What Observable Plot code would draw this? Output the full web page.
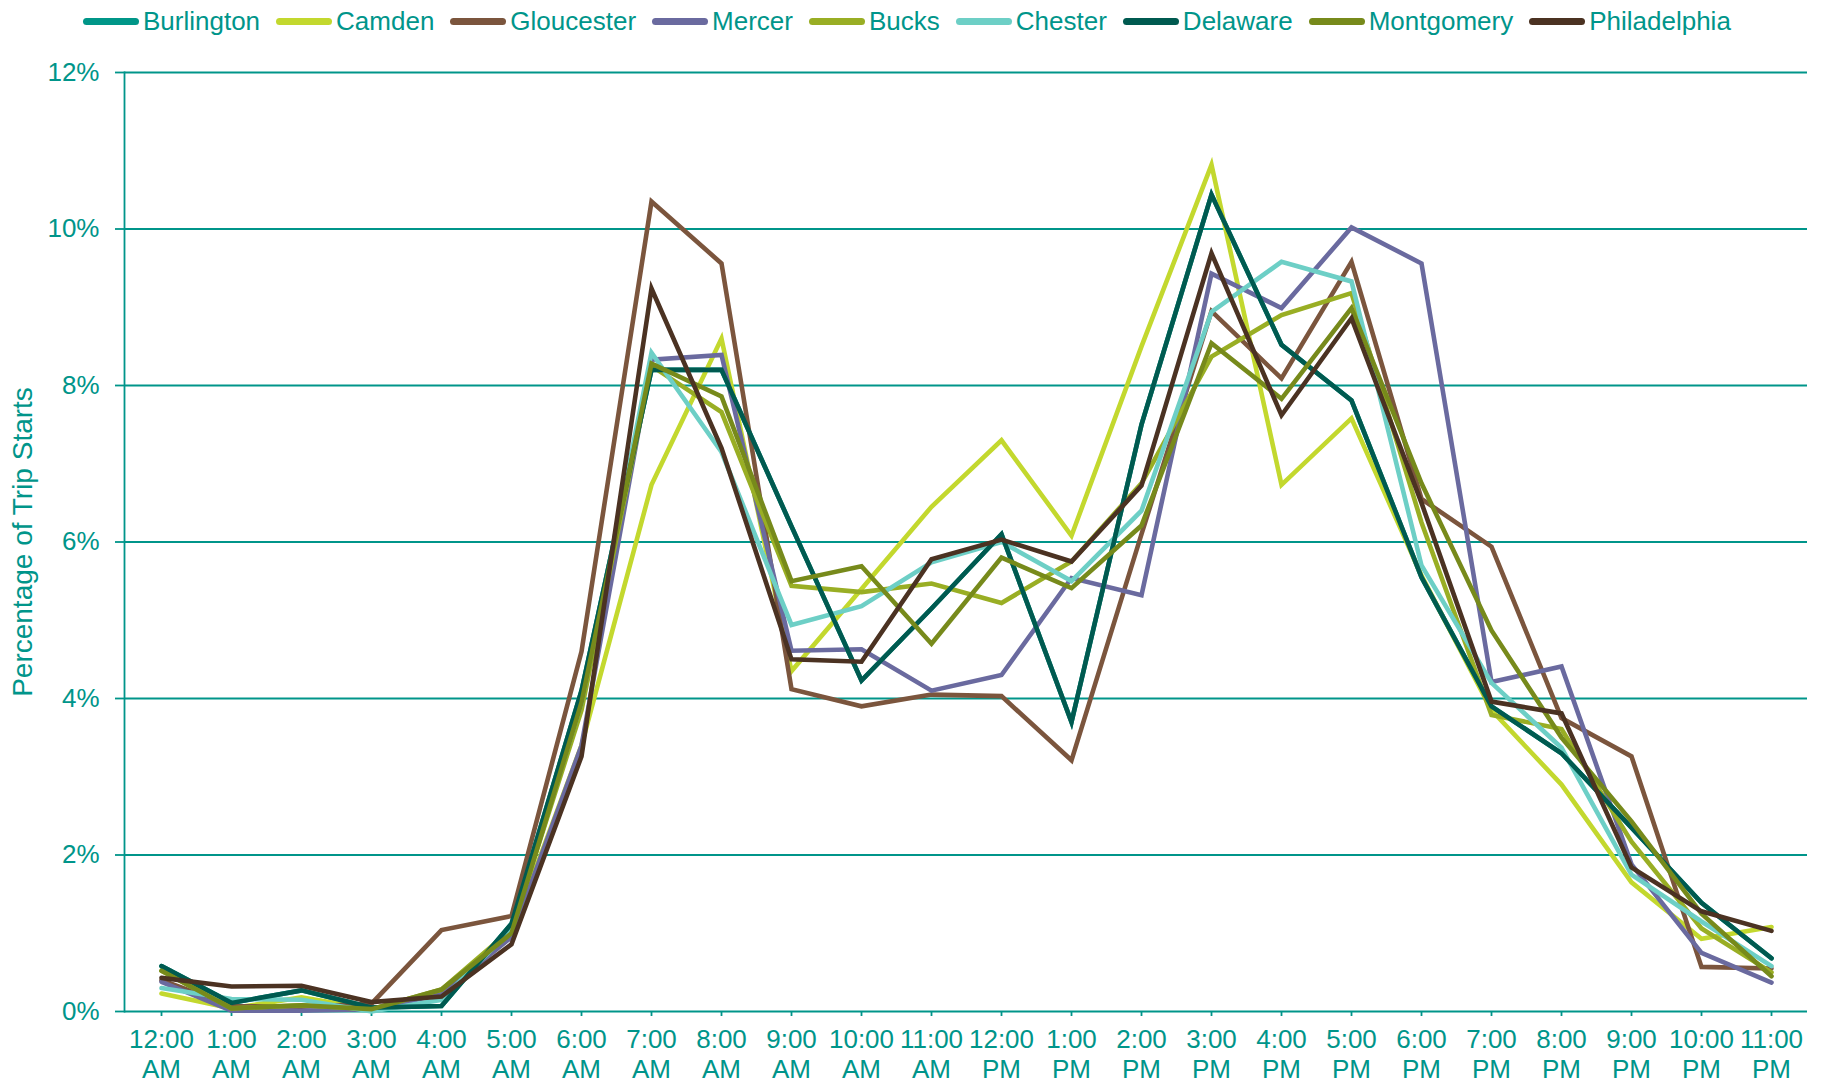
<!DOCTYPE html>
<html><head><meta charset="utf-8">
<script src="https://cdn.jsdelivr.net/npm/d3@7"></script>
<script src="https://cdn.jsdelivr.net/npm/@observablehq/plot@0.6"></script>
<style>
body{margin:0;background:#fff;font-family:"Liberation Sans",Arial,sans-serif;}
#legend{height:42px;display:flex;align-items:center;padding-left:83px;font-size:26px;color:#00958a;white-space:nowrap;}
.item{display:flex;align-items:center;margin-right:16px;}
.sw{width:56px;height:7px;border-radius:3.5px;margin-right:4px;}
</style></head><body>
<div id="legend"></div>
<div id="chart"></div>
<script>
const hours = ["12:00 AM","1:00 AM","2:00 AM","3:00 AM","4:00 AM","5:00 AM","6:00 AM","7:00 AM","8:00 AM","9:00 AM","10:00 AM","11:00 AM",
               "12:00 PM","1:00 PM","2:00 PM","3:00 PM","4:00 PM","5:00 PM","6:00 PM","7:00 PM","8:00 PM","9:00 PM","10:00 PM","11:00 PM"];
const yTicks = [0, 2, 4, 6, 8, 10, 12];
const seriesNames = ["Burlington","Camden","Gloucester","Mercer","Bucks","Chester","Delaware","Montgomery","Philadelphia"];
const seriesColors = ["#009688","#c3d82e","#7b553d","#6a6a9f","#99ae24","#6dcfc6","#005a50","#778a1b","#4b3222"];

const burlington   = [0.58,0.11,0.27,0.05,0.07,1.12,4.10,8.20,8.20,6.20,4.23,5.15,6.10,3.70,7.50,10.44,8.52,7.81,5.55,3.90,3.30,2.35,1.39,0.68];
const camden       = [0.23,0.04,0.18,0.03,0.25,1.00,3.40,6.73,8.60,4.35,5.40,6.45,7.30,6.08,8.50,10.82,6.73,7.58,5.57,3.85,2.90,1.65,0.93,1.08];
const gloucester   = [0.40,0.07,0.06,0.10,1.04,1.22,4.60,10.35,9.56,4.12,3.90,4.05,4.03,3.21,6.10,8.95,8.09,9.58,6.55,5.94,3.75,3.26,0.57,0.55];
const mercer       = [0.38,0.01,0.01,0.03,0.22,0.95,3.40,8.33,8.39,4.61,4.63,4.10,4.30,5.54,5.32,9.43,8.99,10.02,9.56,4.21,4.41,1.88,0.75,0.37];
const bucks        = [0.52,0.04,0.08,0.03,0.28,1.05,3.85,8.25,7.66,5.44,5.36,5.47,5.22,5.75,6.75,8.37,8.90,9.18,6.25,3.79,3.61,2.17,1.06,0.50];
const chester      = [0.30,0.16,0.15,0.00,0.15,1.05,3.95,8.42,7.15,4.94,5.18,5.74,6.00,5.50,6.40,8.94,9.58,9.33,5.70,4.20,3.37,1.75,1.15,0.58];
const delaware     = [0.58,0.11,0.27,0.05,0.07,1.12,4.10,8.20,8.20,6.20,4.23,5.15,6.10,3.70,7.50,10.44,8.52,7.81,5.55,3.90,3.30,2.35,1.39,0.68];
const montgomery   = [0.52,0.04,0.08,0.03,0.28,1.00,3.95,8.28,7.86,5.50,5.69,4.70,5.80,5.41,6.21,8.54,7.83,8.99,6.75,4.87,3.50,2.43,1.25,0.45];
const philadelphia = [0.43,0.32,0.33,0.12,0.19,0.86,3.26,9.24,7.20,4.50,4.47,5.78,6.03,5.75,6.72,9.69,7.62,8.86,6.50,3.96,3.81,1.84,1.28,1.03];

const seriesValues = [burlington, camden, gloucester, mercer, bucks, chester, delaware, montgomery, philadelphia];
const teal = "#00958a";

// legend
const legend = document.getElementById("legend");
seriesNames.forEach((name, i) => {
  const item = document.createElement("div");
  item.className = "item";
  const sw = document.createElement("span");
  sw.className = "sw";
  sw.style.background = seriesColors[i];
  const t = document.createElement("span");
  t.textContent = name;
  item.appendChild(sw); item.appendChild(t);
  legend.appendChild(item);
});

const lineMarks = seriesNames.map((name, i) => {
  const rows = hours.map((h, j) => ({hour: h, value: seriesValues[i][j], series: name}));
  return Plot.line(rows, {x: "hour", y: "value", stroke: seriesColors[i], strokeWidth: 4.6, strokeLinejoin: "miter", strokeMiterlimit: 4});
});

const chart = Plot.plot({
  width: 1830,
  height: 1046,
  marginTop: 30,
  marginBottom: 77,
  marginLeft: 124,
  marginRight: 23,
  style: {fontFamily: "Liberation Sans, Arial, sans-serif", fontSize: "26px", color: teal, background: "#fff", overflow: "visible"},
  x: {type: "point", domain: hours, padding: 0.5, align: 0.5},
  y: {domain: [0, 12]},
  marks: [
    Plot.ruleY(yTicks, {stroke: teal, strokeWidth: 1.8}),
    Plot.frame({anchor: "left", stroke: teal, strokeWidth: 1.8}),
    Plot.axisY({ticks: yTicks, tickSize: 9, tickPadding: 16, tickFormat: d => `${d}%`, stroke: teal, strokeWidth: 1.8, fill: teal, label: null}),
    Plot.axisY({ticks: [], label: "Percentage of Trip Starts", labelAnchor: "center", labelArrow: "none", labelOffset: 112, fontSize: 28, fill: teal}),
    Plot.axisX({tickSize: 5, tickPadding: 10, tickFormat: d => d.replace(" ", "\n"), lineHeight: 1.15, stroke: teal, strokeWidth: 1.8, fill: teal, label: null}),
    ...lineMarks
  ]
});
document.getElementById("chart").appendChild(chart);
</script>
</body></html>
